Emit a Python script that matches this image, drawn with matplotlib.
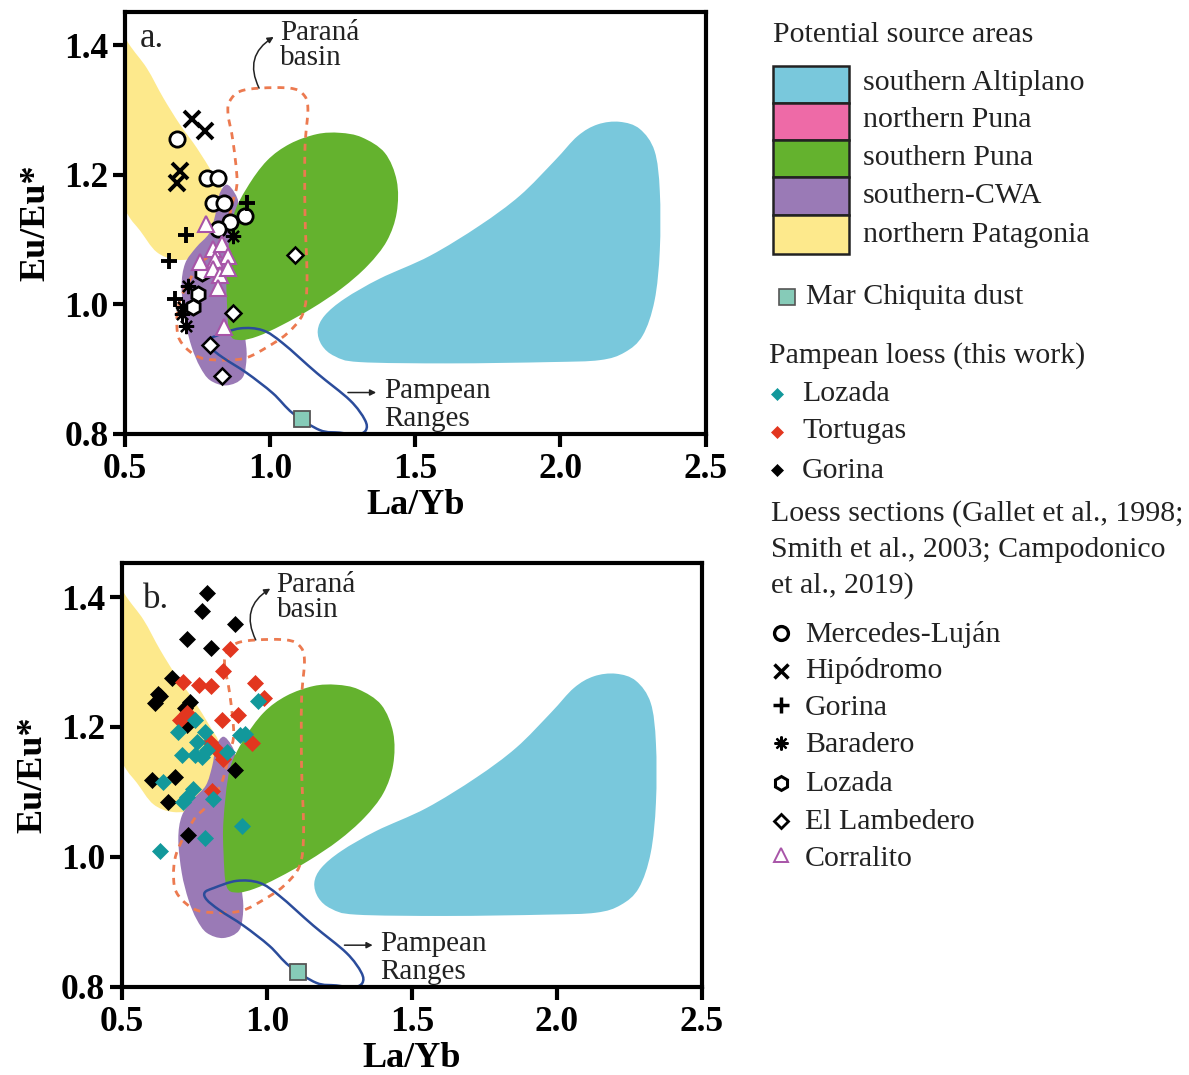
import numpy as np
import matplotlib
matplotlib.use("Agg")
import matplotlib.pyplot as plt
from matplotlib.path import Path
from matplotlib.patches import PathPatch, Rectangle

plt.rcParams['font.family'] = ['Liberation Serif', 'DejaVu Serif']

# ---------------- axes / ticks ----------------
x_ticks = [0.5, 1.0, 1.5, 2.0, 2.5]
x_tick_labels = ["0.5", "1.0", "1.5", "2.0", "2.5"]
y_ticks = [0.8, 1.0, 1.2, 1.4]
y_tick_labels = ["0.8", "1.0", "1.2", "1.4"]

# ---------------- potential source areas (outlines: La/Yb, Eu/Eu*) ----------------
patagonia_x = [0.44, 0.511, 0.575, 0.632, 0.689, 0.747, 0.804, 0.836, 0.840, 0.832, 0.807, 0.758, 0.678, 0.609, 0.552, 0.508, 0.44]
patagonia_y = [1.46, 1.404, 1.365, 1.319, 1.278, 1.242, 1.201, 1.175, 1.140, 1.108, 1.087, 1.073, 1.069, 1.081, 1.114, 1.140, 1.20]

cwa_x = [0.850, 0.878, 0.893, 0.900, 0.905, 0.913, 0.919, 0.905, 0.850, 0.793, 0.758, 0.730, 0.707, 0.695, 0.707, 0.745, 0.790, 0.812, 0.825]
cwa_y = [1.185, 1.172, 1.150, 1.080, 1.010, 0.955, 0.920, 0.887, 0.875, 0.883, 0.904, 0.934, 0.975, 1.027, 1.063, 1.088, 1.110, 1.140, 1.170]

spuna_x = [0.861, 0.851, 0.851, 0.872, 0.920, 0.989, 1.068, 1.161, 1.240, 1.316, 1.395, 1.436, 1.436, 1.402, 1.336, 1.247, 1.144, 1.040, 0.958, 0.896]
spuna_y = [0.955, 1.006, 1.057, 1.134, 1.180, 1.222, 1.248, 1.263, 1.265, 1.258, 1.234, 1.191, 1.142, 1.098, 1.060, 1.025, 0.994, 0.968, 0.951, 0.945]

altiplano_x = [1.164, 1.178, 1.223, 1.309, 1.619, 1.963, 2.135, 2.221, 2.283, 2.324, 2.342, 2.342, 2.324, 2.273, 2.204, 2.128, 2.059, 1.980, 1.860, 1.722, 1.550, 1.378, 1.257, 1.188]
altiplano_y = [0.960, 0.937, 0.920, 0.911, 0.909, 0.911, 0.914, 0.926, 0.952, 1.006, 1.083, 1.175, 1.237, 1.271, 1.282, 1.278, 1.260, 1.222, 1.168, 1.122, 1.075, 1.040, 1.009, 0.983]

parana_x = [0.861, 0.896, 0.965, 1.068, 1.113, 1.130, 1.120, 1.120, 1.127, 1.113, 1.058, 0.989, 0.920, 0.851, 0.758, 0.696, 0.679, 0.689, 0.748, 0.793, 0.844, 0.872, 0.886, 0.872, 0.855]
parana_y = [1.314, 1.329, 1.334, 1.334, 1.325, 1.303, 1.242, 1.140, 1.037, 0.986, 0.955, 0.934, 0.918, 0.914, 0.918, 0.940, 0.965, 1.006, 1.057, 1.078, 1.114, 1.160, 1.191, 1.252, 1.294]

pampean_x = [0.786, 0.817, 0.896, 0.975, 1.044, 1.161, 1.275, 1.326, 1.330, 1.299, 1.240, 1.171, 1.078, 1.009, 0.920, 0.837, 0.793]
pampean_y = [0.945, 0.952, 0.963, 0.960, 0.940, 0.894, 0.852, 0.822, 0.806, 0.799, 0.802, 0.806, 0.832, 0.863, 0.894, 0.918, 0.934]

marchiquita_x = [1.109]
marchiquita_y = [0.823]

# ---------------- panel a: published loess sections ----------------
merclujan_x = [0.678, 0.781, 0.821, 0.802, 0.841, 0.861, 0.913, 0.821]
merclujan_y = [1.256, 1.196, 1.196, 1.156, 1.156, 1.127, 1.137, 1.117]
hipodromo_x = [0.730, 0.775, 0.689, 0.678]
hipodromo_y = [1.286, 1.268, 1.206, 1.188]
gorina_a_x = [0.919, 0.710, 0.653, 0.672]
gorina_a_y = [1.157, 1.108, 1.067, 1.009]
baradero_x = [0.873, 0.718, 0.701, 0.695, 0.710]
baradero_y = [1.106, 1.029, 0.996, 0.986, 0.966]
lozada_a_x = [0.764, 0.752, 0.733]
lozada_a_y = [1.048, 1.016, 0.996]
lambedero_x = [1.085, 0.873, 0.793, 0.833]
lambedero_y = [1.077, 0.987, 0.937, 0.890]
corralito_x = [0.779, 0.802, 0.833, 0.854, 0.758, 0.810, 0.804, 0.829, 0.856, 0.821, 0.841]
corralito_y = [1.124, 1.086, 1.093, 1.075, 1.065, 1.068, 1.055, 1.046, 1.056, 1.026, 0.965]

# ---------------- panel b: Pampean loess (this work) ----------------
gorina_b_x = [0.793, 0.776, 0.891, 0.724, 0.807, 0.672, 0.626, 0.632, 0.615, 0.736, 0.718, 0.724, 0.891, 0.603, 0.684, 0.661, 0.730]
gorina_b_y = [1.406, 1.379, 1.359, 1.335, 1.322, 1.276, 1.250, 1.248, 1.237, 1.239, 1.229, 1.203, 1.133, 1.119, 1.123, 1.085, 1.034]
tortugas_x = [0.873, 0.850, 0.712, 0.768, 0.808, 0.960, 0.991, 0.724, 0.701, 0.845, 0.902, 0.805, 0.828, 0.850, 0.948, 0.810]
tortugas_y = [1.320, 1.286, 1.270, 1.264, 1.263, 1.268, 1.244, 1.221, 1.211, 1.211, 1.218, 1.177, 1.164, 1.151, 1.175, 1.102]
lozada_b_x = [0.971, 0.753, 0.695, 0.787, 0.759, 0.793, 0.707, 0.753, 0.776, 0.862, 0.908, 0.925, 0.643, 0.747, 0.724, 0.712, 0.816, 0.914, 0.787, 0.632]
lozada_b_y = [1.240, 1.211, 1.193, 1.193, 1.177, 1.164, 1.157, 1.157, 1.153, 1.162, 1.188, 1.189, 1.115, 1.105, 1.092, 1.084, 1.089, 1.048, 1.029, 1.009]

# ---------------- legend labels ----------------
source_labels = ["southern Altiplano", "northern Puna", "southern Puna", "southern-CWA", "northern Patagonia"]
loess_labels = ["Lozada", "Tortugas", "Gorina"]
section_labels = ["Mercedes-Luján", "Hipódromo", "Gorina", "Baradero", "Lozada", "El Lambedero", "Corralito"]

# ---------------- colours ----------------
C_YELLOW = '#fde98c'
C_PURPLE = '#9a7ab6'
C_GREEN = '#64b22e'
C_BLUE = '#79c8dc'
C_PINK = '#ee6aa7'
C_PARANA = '#ec7a50'
C_PAMPEAN = '#2b4c9b'
C_MARCH = '#86cbb8'
C_TEAL = '#12989b'
C_RED = '#e2361f'
C_CORR = '#a855a8'
source_colors = [C_BLUE, C_PINK, C_GREEN, C_PURPLE, C_YELLOW]
loess_colors = [C_TEAL, C_RED, 'black']


def smooth_path(xs, ys):
    P = np.column_stack([xs, ys]).astype(float)
    n = len(P)
    verts = [P[0]]
    codes = [Path.MOVETO]
    for i in range(n):
        p0, p1, p2, p3 = P[(i - 1) % n], P[i], P[(i + 1) % n], P[(i + 2) % n]
        verts += [p1 + (p2 - p0) / 6.0, p2 - (p3 - p1) / 6.0, p2]
        codes += [Path.CURVE4] * 3
    verts.append(P[0])
    codes.append(Path.CLOSEPOLY)
    return Path(verts, codes)


ANN_FS = 21


def draw_background(ax, letter, letter_xy):
    for xs, ys, c in [(patagonia_x, patagonia_y, C_YELLOW),
                      (cwa_x, cwa_y, C_PURPLE),
                      (spuna_x, spuna_y, C_GREEN),
                      (altiplano_x, altiplano_y, C_BLUE)]:
        ax.add_patch(PathPatch(smooth_path(xs, ys), facecolor=c, edgecolor='none', zorder=1))
    ax.add_patch(PathPatch(smooth_path(parana_x, parana_y), facecolor='none', edgecolor=C_PARANA,
                           lw=2.0, linestyle=(0, (2.5, 2.2)), zorder=2))
    ax.add_patch(PathPatch(smooth_path(pampean_x, pampean_y), facecolor='none', edgecolor=C_PAMPEAN,
                           lw=1.8, zorder=2))
    ax.plot(marchiquita_x, marchiquita_y, 's', ms=11, mfc=C_MARCH, mec='#555555', mew=1.3,
            zorder=6, clip_on=False)
    # annotations
    ax.text(1.034, 1.408, "Paraná", fontsize=ANN_FS, va='baseline', ha='left', color='#222222')
    ax.text(1.034, 1.370, "basin", fontsize=ANN_FS, va='baseline', ha='left', color='#222222')
    ax.annotate("", xy=(1.012, 1.413), xytext=(0.962, 1.334),
                arrowprops=dict(arrowstyle='-|>,head_length=0.35,head_width=0.18', lw=1.1,
                                color='#222222', connectionstyle='arc3,rad=-0.45',
                                shrinkA=0, shrinkB=0))
    ax.text(1.392, 0.855, "Pampean", fontsize=ANN_FS, va='baseline', ha='left', color='#222222')
    ax.text(1.392, 0.812, "Ranges", fontsize=ANN_FS, va='baseline', ha='left', color='#222222')
    ax.annotate("", xy=(1.365, 0.864), xytext=(1.268, 0.864),
                arrowprops=dict(arrowstyle='-|>,head_length=0.35,head_width=0.18', lw=1.1,
                                color='#222222', shrinkA=0, shrinkB=0))
    ax.text(letter_xy[0], letter_xy[1], letter, transform=ax.transAxes, fontsize=25,
            va='baseline', ha='left', color='#222222')

    ax.set_xlim(0.5, 2.5)
    ax.set_ylim(0.8, 1.452)
    ax.set_xticks(x_ticks)
    ax.set_xticklabels(x_tick_labels)
    ax.set_yticks(y_ticks)
    ax.set_yticklabels(y_tick_labels)
    ax.tick_params(direction='out', length=9, width=3, labelsize=25.5, color='black')
    ax.tick_params(axis='x', pad=5)
    ax.tick_params(axis='y', pad=3)
    for lab in ax.get_xticklabels() + ax.get_yticklabels():
        lab.set_fontweight('bold')
    for sp in ax.spines.values():
        sp.set_linewidth(3)
        sp.set_zorder(10)
    ax.set_xlabel("La/Yb", fontsize=26, fontweight='bold', labelpad=2)
    ax.set_ylabel("Eu/Eu*", fontsize=26, fontweight='bold', labelpad=8)


fig = plt.figure(figsize=(11.89, 10.75), dpi=100)
axA = fig.add_axes([0.1051, 0.5963, 0.4884, 0.3928])
axB = fig.add_axes([0.1024, 0.0821, 0.4878, 0.3939])

draw_background(axA, "a.", (0.026, 0.916))
draw_background(axB, "b.", (0.037, 0.894))

# panel a markers
axA.plot(merclujan_x, merclujan_y, 'o', ms=11, mfc='white', mec='black', mew=2, ls='none', zorder=5)
axA.plot(hipodromo_x, hipodromo_y, 'x', ms=11, mec='black', mew=2.8, ls='none', zorder=5)
axA.plot(gorina_a_x, gorina_a_y, '+', ms=12, mec='black', mew=2.8, ls='none', zorder=5)
axA.plot(baradero_x, baradero_y, marker=(8, 2, 0), ms=11, mec='black', mew=1.6, ls='none', zorder=5)
axA.plot(lozada_a_x, lozada_a_y, 'h', ms=11, mfc='white', mec='black', mew=2, ls='none', zorder=5)
axA.plot(lambedero_x, lambedero_y, 'D', ms=8, mfc='white', mec='black', mew=1.8, ls='none', zorder=5)
axA.plot(corralito_x, corralito_y, '^', ms=11, mfc='white', mec=C_CORR, mew=1.5, ls='none', zorder=5)

# panel b markers
axB.plot(gorina_b_x, gorina_b_y, 'D', ms=8, mfc='black', mec='black', mew=0.5, ls='none', zorder=5)
axB.plot(tortugas_x, tortugas_y, 'D', ms=8, mfc=C_RED, mec=C_RED, mew=0.5, ls='none', zorder=5)
axB.plot(lozada_b_x, lozada_b_y, 'D', ms=8, mfc=C_TEAL, mec=C_TEAL, mew=0.5, ls='none', zorder=5)

# ---------------- legend (overlay in pixel coordinates) ----------------
ov = fig.add_axes([0, 0, 1, 1])
ov.set_xlim(0, 1189)
ov.set_ylim(1075, 0)
ov.axis('off')
FS = 21.5
TXT = '#222222'
ov.text(773, 41.7, "Potential source areas", fontsize=FS, va='baseline', ha='left', color=TXT)
box_tops = [66, 102.7, 140, 177.3, 215]
box_bots = [102.7, 140, 177.3, 215, 254]
baselines = [90, 127, 165, 203, 242]
for lab, col, t, b, bl in zip(source_labels, source_colors, box_tops, box_bots, baselines):
    ov.add_patch(Rectangle((773.3, t), 76, b - t, facecolor=col, edgecolor='#222222', lw=1.8))
    ov.text(863, bl, lab, fontsize=FS, va='baseline', ha='left', color=TXT)

ov.plot([787], [297], 's', ms=11, mfc=C_MARCH, mec='#555555', mew=1.2)
ov.text(806, 304, "Mar Chiquita dust", fontsize=FS, va='baseline', ha='left', color=TXT)

ov.text(769, 362.7, "Pampean loess (this work)", fontsize=FS, va='baseline', ha='left', color=TXT)
for lab, col, my, bl in zip(loess_labels, loess_colors, [393.7, 431.6, 469.5], [400.6, 438.5, 478]):
    ov.plot([777], [my], 'D', ms=6, mfc=col, mec=col, mew=0.5)
    ov.text(802, bl, lab, fontsize=FS, va='baseline', ha='left', color=TXT)

for line, bl in zip(["Loess sections (Gallet et al., 1998;", "Smith et al., 2003; Campodonico",
                     "et al., 2019)"], [521, 557, 593]):
    ov.text(771, bl, line, fontsize=FS, va='baseline', ha='left', color=TXT)

sec_markers = [dict(marker='o', ms=10, mfc='white', mec='black', mew=2.4),
               dict(marker='x', ms=10, mec='black', mew=2.5),
               dict(marker='+', ms=11, mec='black', mew=2.5),
               dict(marker=(8, 2, 0), ms=10, mec='black', mew=1.6),
               dict(marker='h', ms=10, mfc='white', mec='black', mew=2.2),
               dict(marker='D', ms=7, mfc='white', mec='black', mew=2.0),
               dict(marker='^', ms=10, mfc='white', mec=C_CORR, mew=1.4)]
sec_my = [633, 671, 705, 743, 783, 820.7, 855]
sec_bl = [641.6, 677.8, 715, 751.8, 791.4, 829.3, 865.5]
for lab, mk, my, bl in zip(section_labels, sec_markers, sec_my, sec_bl):
    ov.plot([781], [my], ls='none', **mk)
    ov.text(805, bl, lab, fontsize=FS, va='baseline', ha='left', color=TXT)

fig.savefig("out.png", dpi=100)
